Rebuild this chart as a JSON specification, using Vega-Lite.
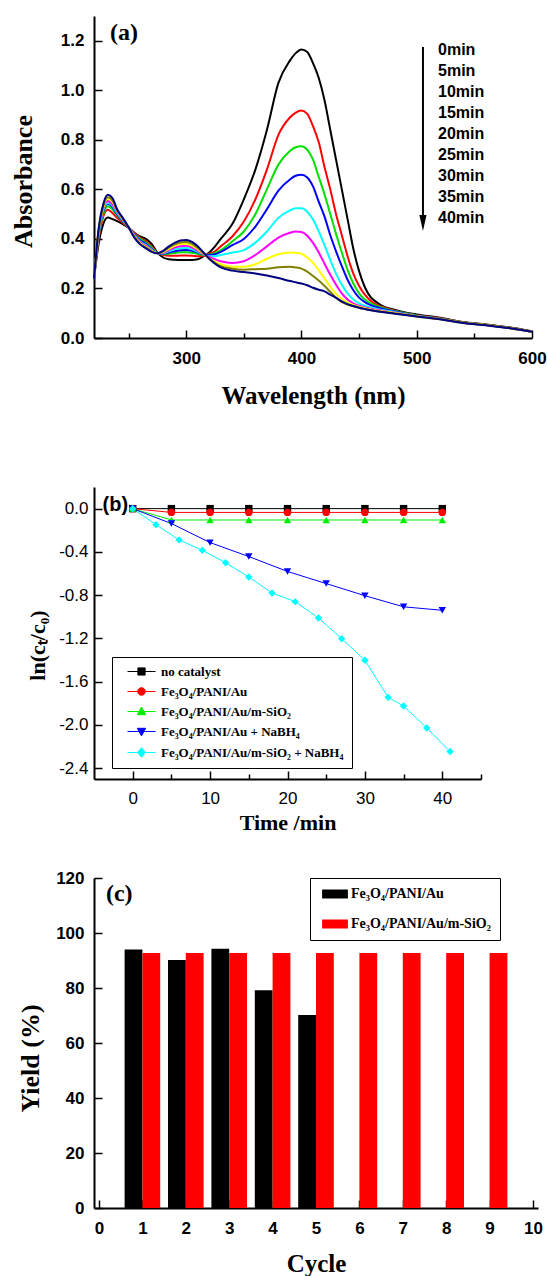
{
"$schema": "https://vega.github.io/schema/vega-lite/v6.json",
"background": "white",
"padding": {"left": 10, "top": 16, "right": 5, "bottom": 5},
"bounds": "flush",
"spacing": 149,
"resolve": {"scale": {"x": "independent", "y": "independent", "color": "independent", "shape": "independent", "stroke": "independent"}},
"config": {
  "view": {"stroke": null},
  "axis": {"grid": false, "domainColor": "black", "domainWidth": 2, "tickColor": "black", "tickWidth": 1.5, "labelColor": "black", "titleColor": "black", "labelOverlap": false, "labelFlush": false}
},
"vconcat": [
{
 "width": 438, "height": 322,
 "layer": [
  {
   "data": {"values": [
    {"wl":220,"0min":0.24,"5min":0.24,"10min":0.24,"15min":0.24,"20min":0.24,"25min":0.24,"30min":0.24,"35min":0.24,"40min":0.24},
    {"wl":224,"0min":0.38,"5min":0.40,"10min":0.41,"15min":0.42,"20min":0.42,"25min":0.425,"30min":0.43,"35min":0.435,"40min":0.44},
    {"wl":228,"0min":0.46,"5min":0.49,"10min":0.50,"15min":0.51,"20min":0.515,"25min":0.52,"30min":0.525,"35min":0.53,"40min":0.54},
    {"wl":232,"0min":0.486,"5min":0.518,"10min":0.532,"15min":0.542,"20min":0.545,"25min":0.553,"30min":0.562,"35min":0.568,"40min":0.578},
    {"wl":236,"0min":0.48,"5min":0.505,"10min":0.52,"15min":0.53,"20min":0.535,"25min":0.54,"30min":0.55,"35min":0.555,"40min":0.565},
    {"wl":240,"0min":0.472,"5min":0.485,"10min":0.495,"15min":0.50,"20min":0.505,"25min":0.51,"30min":0.515,"35min":0.518,"40min":0.52},
    {"wl":245,"0min":0.46,"5min":0.465,"10min":0.47,"15min":0.472,"20min":0.475,"25min":0.478,"30min":0.48,"35min":0.482,"40min":0.485},
    {"wl":250,"0min":0.445,"5min":0.445,"10min":0.447,"15min":0.447,"20min":0.447,"25min":0.447,"30min":0.447,"35min":0.447,"40min":0.447},
    {"wl":255,"0min":0.425,"5min":0.425,"10min":0.42,"15min":0.418,"20min":0.415,"25min":0.413,"30min":0.41,"35min":0.408,"40min":0.405},
    {"wl":260,"0min":0.41,"5min":0.405,"10min":0.40,"15min":0.395,"20min":0.39,"25min":0.387,"30min":0.383,"35min":0.38,"40min":0.378},
    {"wl":265,"0min":0.40,"5min":0.39,"10min":0.385,"15min":0.38,"20min":0.375,"25min":0.372,"30min":0.368,"35min":0.365,"40min":0.362},
    {"wl":270,"0min":0.38,"5min":0.37,"10min":0.365,"15min":0.36,"20min":0.357,"25min":0.355,"30min":0.352,"35min":0.35,"40min":0.348},
    {"wl":275,"0min":0.345,"5min":0.345,"10min":0.343,"15min":0.342,"20min":0.342,"25min":0.342,"30min":0.342,"35min":0.342,"40min":0.342},
    {"wl":280,"0min":0.325,"5min":0.335,"10min":0.338,"15min":0.34,"20min":0.342,"25min":0.344,"30min":0.347,"35min":0.35,"40min":0.352},
    {"wl":285,"0min":0.318,"5min":0.332,"10min":0.34,"15min":0.345,"20min":0.35,"25min":0.355,"30min":0.36,"35min":0.365,"40min":0.37},
    {"wl":290,"0min":0.316,"5min":0.332,"10min":0.343,"15min":0.35,"20min":0.358,"25min":0.365,"30min":0.372,"35min":0.378,"40min":0.384},
    {"wl":295,"0min":0.315,"5min":0.333,"10min":0.346,"15min":0.354,"20min":0.362,"25min":0.37,"30min":0.379,"35min":0.386,"40min":0.394},
    {"wl":300,"0min":0.315,"5min":0.333,"10min":0.346,"15min":0.355,"20min":0.363,"25min":0.372,"30min":0.38,"35min":0.388,"40min":0.396},
    {"wl":305,"0min":0.315,"5min":0.332,"10min":0.344,"15min":0.352,"20min":0.358,"25min":0.365,"30min":0.373,"35min":0.38,"40min":0.388},
    {"wl":310,"0min":0.318,"5min":0.33,"10min":0.34,"15min":0.345,"20min":0.348,"25min":0.352,"30min":0.358,"35min":0.363,"40min":0.37},
    {"wl":315,"0min":0.33,"5min":0.332,"10min":0.336,"15min":0.337,"20min":0.337,"25min":0.338,"30min":0.34,"35min":0.342,"40min":0.345},
    {"wl":320,"0min":0.345,"5min":0.34,"10min":0.337,"15min":0.335,"20min":0.33,"25min":0.327,"30min":0.322,"35min":0.32,"40min":0.32},
    {"wl":325,"0min":0.37,"5min":0.35,"10min":0.343,"15min":0.338,"20min":0.33,"25min":0.318,"30min":0.308,"35min":0.303,"40min":0.30},
    {"wl":330,"0min":0.40,"5min":0.37,"10min":0.355,"15min":0.348,"20min":0.335,"25min":0.31,"30min":0.298,"35min":0.29,"40min":0.285},
    {"wl":340,"0min":0.46,"5min":0.41,"10min":0.39,"15min":0.375,"20min":0.345,"25min":0.303,"30min":0.288,"35min":0.28,"40min":0.272},
    {"wl":350,"0min":0.56,"5min":0.47,"10min":0.43,"15min":0.40,"20min":0.355,"25min":0.31,"30min":0.288,"35min":0.276,"40min":0.266},
    {"wl":360,"0min":0.68,"5min":0.56,"10min":0.50,"15min":0.45,"20min":0.385,"25min":0.335,"30min":0.298,"35min":0.278,"40min":0.26},
    {"wl":370,"0min":0.84,"5min":0.68,"10min":0.60,"15min":0.52,"20min":0.43,"25min":0.37,"30min":0.32,"35min":0.28,"40min":0.252},
    {"wl":380,"0min":1.03,"5min":0.82,"10min":0.70,"15min":0.595,"20min":0.485,"25min":0.405,"30min":0.338,"35min":0.286,"40min":0.242},
    {"wl":390,"0min":1.12,"5min":0.89,"10min":0.755,"15min":0.64,"20min":0.515,"25min":0.425,"30min":0.345,"35min":0.288,"40min":0.23},
    {"wl":395,"0min":1.15,"5min":0.91,"10min":0.77,"15min":0.655,"20min":0.524,"25min":0.43,"30min":0.344,"35min":0.285,"40min":0.225},
    {"wl":400,"0min":1.165,"5min":0.918,"10min":0.774,"15min":0.659,"20min":0.524,"25min":0.428,"30min":0.34,"35min":0.28,"40min":0.22},
    {"wl":405,"0min":1.155,"5min":0.905,"10min":0.76,"15min":0.648,"20min":0.51,"25min":0.413,"30min":0.325,"35min":0.268,"40min":0.213},
    {"wl":410,"0min":1.11,"5min":0.855,"10min":0.72,"15min":0.612,"20min":0.478,"25min":0.384,"30min":0.303,"35min":0.25,"40min":0.203},
    {"wl":415,"0min":1.05,"5min":0.79,"10min":0.65,"15min":0.55,"20min":0.43,"25min":0.345,"30min":0.273,"35min":0.232,"40min":0.195},
    {"wl":420,"0min":0.96,"5min":0.69,"10min":0.58,"15min":0.49,"20min":0.375,"25min":0.30,"30min":0.24,"35min":0.21,"40min":0.188},
    {"wl":425,"0min":0.84,"5min":0.60,"10min":0.50,"15min":0.415,"20min":0.315,"25min":0.255,"30min":0.207,"35min":0.186,"40min":0.175},
    {"wl":430,"0min":0.72,"5min":0.50,"10min":0.42,"15min":0.35,"20min":0.26,"25min":0.215,"30min":0.178,"35min":0.163,"40min":0.162},
    {"wl":435,"0min":0.60,"5min":0.415,"10min":0.345,"15min":0.29,"20min":0.215,"25min":0.18,"30min":0.157,"35min":0.145,"40min":0.148},
    {"wl":440,"0min":0.48,"5min":0.33,"10min":0.275,"15min":0.235,"20min":0.18,"25min":0.155,"30min":0.143,"35min":0.135,"40min":0.137},
    {"wl":445,"0min":0.36,"5min":0.26,"10min":0.22,"15min":0.193,"20min":0.155,"25min":0.14,"30min":0.133,"35min":0.128,"40min":0.129},
    {"wl":450,"0min":0.27,"5min":0.21,"10min":0.18,"15min":0.163,"20min":0.14,"25min":0.13,"30min":0.126,"35min":0.122,"40min":0.122},
    {"wl":455,"0min":0.205,"5min":0.175,"10min":0.155,"15min":0.145,"20min":0.13,"25min":0.123,"30min":0.12,"35min":0.117,"40min":0.117},
    {"wl":460,"0min":0.165,"5min":0.15,"10min":0.14,"15min":0.133,"20min":0.123,"25min":0.118,"30min":0.115,"35min":0.113,"40min":0.112},
    {"wl":465,"0min":0.145,"5min":0.135,"10min":0.13,"15min":0.125,"20min":0.118,"25min":0.114,"30min":0.111,"35min":0.109,"40min":0.108},
    {"wl":470,"0min":0.13,"5min":0.125,"10min":0.122,"15min":0.118,"20min":0.113,"25min":0.11,"30min":0.108,"35min":0.106,"40min":0.105},
    {"wl":480,"0min":0.115,"5min":0.112,"10min":0.11,"15min":0.108,"20min":0.105,"25min":0.103,"30min":0.102,"35min":0.1,"40min":0.099},
    {"wl":490,"0min":0.103,"5min":0.1,"10min":0.1,"15min":0.098,"20min":0.097,"25min":0.096,"30min":0.095,"35min":0.094,"40min":0.093},
    {"wl":500,"0min":0.095,"5min":0.092,"10min":0.091,"15min":0.09,"20min":0.089,"25min":0.088,"30min":0.088,"35min":0.087,"40min":0.087},
    {"wl":520,"0min":0.082,"5min":0.08,"10min":0.079,"15min":0.078,"20min":0.077,"25min":0.077,"30min":0.077,"35min":0.076,"40min":0.076},
    {"wl":540,"0min":0.065,"5min":0.064,"10min":0.063,"15min":0.062,"20min":0.062,"25min":0.062,"30min":0.062,"35min":0.062,"40min":0.061},
    {"wl":560,"0min":0.055,"5min":0.054,"10min":0.053,"15min":0.052,"20min":0.052,"25min":0.052,"30min":0.052,"35min":0.052,"40min":0.051},
    {"wl":580,"0min":0.043,"5min":0.042,"10min":0.041,"15min":0.04,"20min":0.04,"25min":0.04,"30min":0.04,"35min":0.04,"40min":0.04},
    {"wl":600,"0min":0.027,"5min":0.026,"10min":0.025,"15min":0.025,"20min":0.025,"25min":0.025,"30min":0.025,"35min":0.025,"40min":0.025}
   ]},
   "transform": [{"fold": ["0min","5min","10min","15min","20min","25min","30min","35min","40min"], "as": ["time","absorbance"]}],
   "mark": {"type": "line", "strokeWidth": 2, "interpolate": "monotone"},
   "encoding": {
    "x": {"field": "wl", "type": "quantitative", "scale": {"domain": [220,600], "nice": false, "zero": false},
      "axis": {"values": [250,300,350,400,450,500,550,600], "labelExpr": "datum.value % 100 == 0 ? datum.label : ''",
        "tickSize": {"condition": {"test": "datum.value % 100 == 0", "value": -8}, "value": -5},
        "labelPadding": 20, "labelFont": "Liberation Sans", "labelFontWeight": "bold", "labelFontSize": 17,
        "title": "Wavelength (nm)", "titleFont": "Liberation Serif", "titleFontWeight": "bold", "titleFontSize": 25, "titleY": 57, "titleBaseline": "middle"}},
    "y": {"field": "absorbance", "type": "quantitative", "scale": {"domain": [0,1.3], "nice": false},
      "axis": {"values": [0,0.1,0.2,0.3,0.4,0.5,0.6,0.7,0.8,0.9,1.0,1.1,1.2,1.3], "format": ".1f",
        "labelExpr": "round(datum.value*10) % 2 == 0 ? datum.label : ''",
        "tickSize": {"condition": {"test": "round(datum.value*10) % 2 == 0", "value": -8}, "value": -5},
        "labelPadding": 18, "labelFont": "Liberation Sans", "labelFontWeight": "bold", "labelFontSize": 17,
        "title": "Absorbance", "titleFont": "Liberation Serif", "titleFontWeight": "bold", "titleFontSize": 26, "titleX": -71, "titleY": 165, "titleBaseline": "middle"}},
    "color": {"field": "time", "type": "nominal",
      "scale": {"domain": ["0min","5min","10min","15min","20min","25min","30min","35min","40min"], "range": ["#000000","#ff0000","#00e000","#0000ff","#00ffff","#ff00ff","#ffff00","#808000","#000080"]},
      "legend": {"orient": "none", "legendX": 328, "legendY": 26, "title": null, "symbolSize": 0, "symbolStrokeWidth": 0, "symbolOpacity": 0, "labelOffset": 0, "padding": 0, "rowPadding": 5, "labelFont": "Liberation Sans", "labelFontWeight": "bold", "labelFontSize": 16, "labelColor": "black"}}
   }
  },
  {
   "data": {"values": [{}]},
   "mark": {"type": "rule", "strokeWidth": 2, "color": "black"},
   "encoding": {"x": {"datum": 505.4}, "y": {"datum": 1.175}, "y2": {"datum": 0.49}}
  },
  {
   "data": {"values": [{}]},
   "mark": {"type": "point", "shape": "M-0.45,-1L0.45,-1L0,1Z", "filled": true, "color": "black", "size": 256, "opacity": 1},
   "encoding": {"x": {"datum": 505.4}, "y": {"datum": 0.464}}
  },
  {
   "data": {"values": [{}]},
   "mark": {"type": "text", "text": "(a)", "font": "Liberation Serif", "fontWeight": "bold", "fontSize": 24, "align": "left", "baseline": "middle", "color": "black"},
   "encoding": {"x": {"datum": 233.9}, "y": {"datum": 1.23}}
  }
 ]
},
{
 "bounds": "flush",
 "spacing": 99,
 "resolve": {"scale": {"x": "independent", "y": "independent", "color": "independent", "shape": "independent", "stroke": "independent"}},
 "vconcat": [
  {
   "width": 387, "height": 292,
   "layer": [
    {
     "data": {"name": "kin"},
     "mark": {"type": "line", "strokeWidth": 1},
     "encoding": {
      "x": {"field": "time", "type": "quantitative", "scale": {"domain": [-5,45], "nice": false, "zero": false},
        "axis": {"values": [0,5,10,15,20,25,30,35,40,45], "labelExpr": "datum.value % 10 == 0 && datum.value <= 40 ? datum.label : ''",
          "tickSize": {"condition": {"test": "datum.value % 10 == 0", "value": -8}, "value": -5},
          "labelPadding": 19, "labelFont": "Liberation Sans", "labelFontWeight": "normal", "labelFontSize": 17,
          "title": "Time /min", "titleFont": "Liberation Serif", "titleFontWeight": "bold", "titleFontSize": 22, "titleY": 43, "titleBaseline": "middle"}},
      "y": {"field": "value", "type": "quantitative", "scale": {"domain": [-2.5,0.2], "nice": false, "zero": false},
        "axis": {"values": [0.2,0,-0.2,-0.4,-0.6,-0.8,-1.0,-1.2,-1.4,-1.6,-1.8,-2.0,-2.2,-2.4],
          "labelExpr": "round(datum.value*10) % 4 == 0 && datum.value < 0.1 ? replace(format(datum.value, '.1f'), '\u2212', '-') : ''",
          "tickSize": {"condition": {"test": "round(datum.value*10) % 4 == 0", "value": -8}, "value": -5},
          "labelPadding": 14, "labelFont": "Liberation Sans", "labelFontWeight": "normal", "labelFontSize": 17,
          "title": "ln(cₜ/c₀)", "titleFont": "Liberation Serif", "titleFontWeight": "bold", "titleFontSize": 22, "titleX": -57, "titleY": 158, "titleBaseline": "middle"}},
      "color": {"field": "series", "type": "nominal", "legend": null,
       "scale": {"domain": ["no catalyst","Fe₃O₄/PANI/Au","Fe₃O₄/PANI/Au/m-SiO₂","Fe₃O₄/PANI/Au + NaBH₄","Fe₃O₄/PANI/Au/m-SiO₂ + NaBH₄"], "range": ["#000000","#ff0000","#00ee00","#0000ff","#00ffff"]}}
     }
    },
    {
     "data": {"name": "kin"},
     "mark": {"type": "point", "filled": true, "size": 55, "opacity": 1},
     "encoding": {
      "x": {"field": "time", "type": "quantitative", "scale": {"domain": [-5,45], "nice": false, "zero": false},
        "axis": {"values": [0,5,10,15,20,25,30,35,40,45], "labelExpr": "datum.value % 10 == 0 && datum.value <= 40 ? datum.label : ''",
          "tickSize": {"condition": {"test": "datum.value % 10 == 0", "value": -8}, "value": -5},
          "labelPadding": 19, "labelFont": "Liberation Sans", "labelFontWeight": "normal", "labelFontSize": 17,
          "title": "Time /min", "titleFont": "Liberation Serif", "titleFontWeight": "bold", "titleFontSize": 22, "titleY": 43, "titleBaseline": "middle"}},
      "y": {"field": "value", "type": "quantitative", "scale": {"domain": [-2.5,0.2], "nice": false, "zero": false},
        "axis": {"values": [0.2,0,-0.2,-0.4,-0.6,-0.8,-1.0,-1.2,-1.4,-1.6,-1.8,-2.0,-2.2,-2.4],
          "labelExpr": "round(datum.value*10) % 4 == 0 && datum.value < 0.1 ? replace(format(datum.value, '.1f'), '\u2212', '-') : ''",
          "tickSize": {"condition": {"test": "round(datum.value*10) % 4 == 0", "value": -8}, "value": -5},
          "labelPadding": 14, "labelFont": "Liberation Sans", "labelFontWeight": "normal", "labelFontSize": 17,
          "title": "ln(cₜ/c₀)", "titleFont": "Liberation Serif", "titleFontWeight": "bold", "titleFontSize": 22, "titleX": -57, "titleY": 158, "titleBaseline": "middle"}},
      "color": {"field": "series", "type": "nominal", "legend": null,
       "scale": {"domain": ["no catalyst","Fe₃O₄/PANI/Au","Fe₃O₄/PANI/Au/m-SiO₂","Fe₃O₄/PANI/Au + NaBH₄","Fe₃O₄/PANI/Au/m-SiO₂ + NaBH₄"], "range": ["#000000","#ff0000","#00ee00","#0000ff","#00ffff"]}},
      "shape": {"field": "series", "type": "nominal", "legend": null,
       "scale": {"domain": ["no catalyst","Fe₃O₄/PANI/Au","Fe₃O₄/PANI/Au/m-SiO₂","Fe₃O₄/PANI/Au + NaBH₄","Fe₃O₄/PANI/Au/m-SiO₂ + NaBH₄"], "range": ["square","circle","triangle-up","triangle-down","diamond"]}}
     }
    },
    {
     "data": {"name": "kin"},
     "mark": {"type": "point", "filled": true, "opacity": 0},
     "encoding": {
      "x": {"field": "time", "type": "quantitative", "scale": {"domain": [-5,45], "nice": false, "zero": false},
        "axis": {"values": [0,5,10,15,20,25,30,35,40,45], "labelExpr": "datum.value % 10 == 0 && datum.value <= 40 ? datum.label : ''",
          "tickSize": {"condition": {"test": "datum.value % 10 == 0", "value": -8}, "value": -5},
          "labelPadding": 19, "labelFont": "Liberation Sans", "labelFontWeight": "normal", "labelFontSize": 17,
          "title": "Time /min", "titleFont": "Liberation Serif", "titleFontWeight": "bold", "titleFontSize": 22, "titleY": 43, "titleBaseline": "middle"}},
      "y": {"field": "value", "type": "quantitative", "scale": {"domain": [-2.5,0.2], "nice": false, "zero": false},
        "axis": {"values": [0.2,0,-0.2,-0.4,-0.6,-0.8,-1.0,-1.2,-1.4,-1.6,-1.8,-2.0,-2.2,-2.4],
          "labelExpr": "round(datum.value*10) % 4 == 0 && datum.value < 0.1 ? replace(format(datum.value, '.1f'), '\u2212', '-') : ''",
          "tickSize": {"condition": {"test": "round(datum.value*10) % 4 == 0", "value": -8}, "value": -5},
          "labelPadding": 14, "labelFont": "Liberation Sans", "labelFontWeight": "normal", "labelFontSize": 17,
          "title": "ln(cₜ/c₀)", "titleFont": "Liberation Serif", "titleFontWeight": "bold", "titleFontSize": 22, "titleX": -57, "titleY": 158, "titleBaseline": "middle"}},
      "color": {"field": "series", "type": "nominal",
       "scale": {"domain": ["no catalyst","Fe₃O₄/PANI/Au","Fe₃O₄/PANI/Au/m-SiO₂","Fe₃O₄/PANI/Au + NaBH₄","Fe₃O₄/PANI/Au/m-SiO₂ + NaBH₄"], "range": ["#000000","#ff0000","#00ee00","#0000ff","#00ffff"]},
       "legend": {"orient": "none", "legendX": 18, "legendY": 170, "title": null, "padding": 8, "strokeColor": "black", "fillColor": "white", "symbolSize": 64, "symbolOffset": 15, "symbolStrokeWidth": 1, "symbolOpacity": 1, "labelOffset": 13, "labelFont": "Liberation Serif", "labelFontWeight": "bold", "labelFontSize": 13, "labelColor": "black", "rowPadding": 6, "labelLimit": 400}},
      "stroke": {"field": "series", "type": "nominal",
       "scale": {"domain": ["no catalyst","Fe₃O₄/PANI/Au","Fe₃O₄/PANI/Au/m-SiO₂","Fe₃O₄/PANI/Au + NaBH₄","Fe₃O₄/PANI/Au/m-SiO₂ + NaBH₄"], "range": ["#000000","#ff0000","#00ee00","#0000ff","#00ffff"]},
       "legend": {"orient": "none", "legendX": 18, "legendY": 170, "title": null, "padding": 8, "strokeColor": "black", "fillColor": "white", "symbolSize": 64, "symbolOffset": 15, "symbolStrokeWidth": 1, "symbolOpacity": 1, "labelOffset": 13, "labelFont": "Liberation Serif", "labelFontWeight": "bold", "labelFontSize": 13, "labelColor": "black", "rowPadding": 6, "labelLimit": 400}},
      "shape": {"field": "series", "type": "nominal",
       "scale": {"domain": ["no catalyst","Fe₃O₄/PANI/Au","Fe₃O₄/PANI/Au/m-SiO₂","Fe₃O₄/PANI/Au + NaBH₄","Fe₃O₄/PANI/Au/m-SiO₂ + NaBH₄"],
         "range": ["M-3.5,0H3.5M-0.9,-0.9H0.9V0.9H-0.9Z","M-3.5,0H3.5M-0.95,0A0.95,0.95,0,1,0,0.95,0A0.95,0.95,0,1,0,-0.95,0Z","M-3.5,0H3.5M0,-1.1L1.05,0.8L-1.05,0.8Z","M-3.5,0H3.5M0,1.1L1.05,-0.8L-1.05,-0.8Z","M-3.5,0H3.5M0,-1.2L1,0L0,1.2L-1,0Z"]},
       "legend": {"orient": "none", "legendX": 18, "legendY": 170, "title": null, "padding": 8, "strokeColor": "black", "fillColor": "white", "symbolSize": 64, "symbolOffset": 15, "symbolStrokeWidth": 1, "symbolOpacity": 1, "labelOffset": 13, "labelFont": "Liberation Serif", "labelFontWeight": "bold", "labelFontSize": 13, "labelColor": "black", "rowPadding": 6, "labelLimit": 400}}
     }
    },
    {
     "data": {"values": [{}]},
     "mark": {"type": "text", "text": "(b)", "font": "Liberation Sans", "fontWeight": "bold", "fontSize": 20, "align": "left", "baseline": "middle", "color": "black"},
     "encoding": {"x": {"datum": -3.9}, "y": {"datum": 0.03}}
    }
   ],
   "resolve": {"scale": {"shape": "independent", "color": "independent", "stroke": "independent"}}
  },
  {
   "width": 444, "height": 330,
   "layer": [
    {
     "data": {"name": "cyc"},
     "transform": [{"filter": "datum.series == 'Fe₃O₄/PANI/Au'"}],
     "mark": {"type": "bar", "orient": "vertical", "width": 17.8, "xOffset": -8.9},
     "encoding": {
      "x": {"field": "cycle", "type": "quantitative", "scale": {"domain": [0,10], "nice": false, "zero": false},
        "axis": {"values": [0,0.5,1,1.5,2,2.5,3,3.5,4,4.5,5,5.5,6,6.5,7,7.5,8,8.5,9,9.5,10], "labelExpr": "datum.value % 1 == 0 ? format(datum.value, 'd') : ''",
          "tickSize": {"condition": {"test": "datum.value % 1 == 0", "value": -8}, "value": -5},
          "labelPadding": 20, "labelFont": "Liberation Sans", "labelFontWeight": "bold", "labelFontSize": 17,
          "title": "Cycle", "titleFont": "Liberation Serif", "titleFontWeight": "bold", "titleFontSize": 25, "titleY": 55, "titleBaseline": "middle"}},
      "y": {"field": "yield", "type": "quantitative", "stack": null, "scale": {"domain": [0,120], "nice": false},
        "axis": {"values": [0,10,20,30,40,50,60,70,80,90,100,110,120], "labelExpr": "datum.value % 20 == 0 ? datum.label : ''",
          "tickSize": {"condition": {"test": "datum.value % 20 == 0", "value": -8}, "value": -5},
          "labelPadding": 18, "labelFont": "Liberation Sans", "labelFontWeight": "bold", "labelFontSize": 17,
          "title": "Yield (%)", "titleFont": "Liberation Serif", "titleFontWeight": "bold", "titleFontSize": 26, "titleX": -64, "titleY": 180, "titleBaseline": "middle"}},
      "color": {"field": "series", "type": "nominal",
        "scale": {"domain": ["Fe₃O₄/PANI/Au","Fe₃O₄/PANI/Au/m-SiO₂"], "range": ["#000000","#ff0000"]},
        "legend": {"orient": "none", "legendX": 216, "legendY": 0, "title": null, "padding": 9, "strokeColor": "black", "fillColor": "white", "symbolType": "M-4.3,-1.5H4.3V1.5H-4.3Z", "symbolSize": 36, "symbolOffset": 9, "symbolStrokeWidth": 0, "symbolOpacity": 1, "labelOffset": 9, "labelFont": "Liberation Serif", "labelFontWeight": "bold", "labelFontSize": 14, "labelColor": "black", "rowPadding": 16, "labelLimit": 400}}
     }
    },
    {
     "data": {"name": "cyc"},
     "transform": [{"filter": "datum.series != 'Fe₃O₄/PANI/Au'"}],
     "mark": {"type": "bar", "orient": "vertical", "width": 17.8, "xOffset": 8.9},
     "encoding": {
      "x": {"field": "cycle", "type": "quantitative", "scale": {"domain": [0,10], "nice": false, "zero": false},
        "axis": {"values": [0,0.5,1,1.5,2,2.5,3,3.5,4,4.5,5,5.5,6,6.5,7,7.5,8,8.5,9,9.5,10], "labelExpr": "datum.value % 1 == 0 ? format(datum.value, 'd') : ''",
          "tickSize": {"condition": {"test": "datum.value % 1 == 0", "value": -8}, "value": -5},
          "labelPadding": 20, "labelFont": "Liberation Sans", "labelFontWeight": "bold", "labelFontSize": 17,
          "title": "Cycle", "titleFont": "Liberation Serif", "titleFontWeight": "bold", "titleFontSize": 25, "titleY": 55, "titleBaseline": "middle"}},
      "y": {"field": "yield", "type": "quantitative", "stack": null, "scale": {"domain": [0,120], "nice": false},
        "axis": {"values": [0,10,20,30,40,50,60,70,80,90,100,110,120], "labelExpr": "datum.value % 20 == 0 ? datum.label : ''",
          "tickSize": {"condition": {"test": "datum.value % 20 == 0", "value": -8}, "value": -5},
          "labelPadding": 18, "labelFont": "Liberation Sans", "labelFontWeight": "bold", "labelFontSize": 17,
          "title": "Yield (%)", "titleFont": "Liberation Serif", "titleFontWeight": "bold", "titleFontSize": 26, "titleX": -64, "titleY": 180, "titleBaseline": "middle"}},
      "color": {"field": "series", "type": "nominal",
        "scale": {"domain": ["Fe₃O₄/PANI/Au","Fe₃O₄/PANI/Au/m-SiO₂"], "range": ["#000000","#ff0000"]},
        "legend": {"orient": "none", "legendX": 216, "legendY": 0, "title": null, "padding": 9, "strokeColor": "black", "fillColor": "white", "symbolType": "M-4.3,-1.5H4.3V1.5H-4.3Z", "symbolSize": 36, "symbolOffset": 9, "symbolStrokeWidth": 0, "symbolOpacity": 1, "labelOffset": 9, "labelFont": "Liberation Serif", "labelFontWeight": "bold", "labelFontSize": 14, "labelColor": "black", "rowPadding": 16, "labelLimit": 400}}
     }
    },
    {
     "data": {"values": [{}]},
     "mark": {"type": "text", "text": "(c)", "font": "Liberation Serif", "fontWeight": "bold", "fontSize": 24, "align": "left", "baseline": "middle", "color": "black"},
     "encoding": {"x": {"datum": 0.16}, "y": {"datum": 114.3}}
    }
   ]
  }
 ]
}
],
"datasets": {
 "kin": [
    {"series":"no catalyst","time":0,"value":0},{"series":"no catalyst","time":5,"value":0},{"series":"no catalyst","time":10,"value":0},{"series":"no catalyst","time":15,"value":0},{"series":"no catalyst","time":20,"value":0},{"series":"no catalyst","time":25,"value":0},{"series":"no catalyst","time":30,"value":0},{"series":"no catalyst","time":35,"value":0},{"series":"no catalyst","time":40,"value":0},
    {"series":"Fe₃O₄/PANI/Au","time":0,"value":0},{"series":"Fe₃O₄/PANI/Au","time":5,"value":-0.035},{"series":"Fe₃O₄/PANI/Au","time":10,"value":-0.035},{"series":"Fe₃O₄/PANI/Au","time":15,"value":-0.035},{"series":"Fe₃O₄/PANI/Au","time":20,"value":-0.035},{"series":"Fe₃O₄/PANI/Au","time":25,"value":-0.035},{"series":"Fe₃O₄/PANI/Au","time":30,"value":-0.035},{"series":"Fe₃O₄/PANI/Au","time":35,"value":-0.035},{"series":"Fe₃O₄/PANI/Au","time":40,"value":-0.035},
    {"series":"Fe₃O₄/PANI/Au/m-SiO₂","time":0,"value":0},{"series":"Fe₃O₄/PANI/Au/m-SiO₂","time":5,"value":-0.105},{"series":"Fe₃O₄/PANI/Au/m-SiO₂","time":10,"value":-0.105},{"series":"Fe₃O₄/PANI/Au/m-SiO₂","time":15,"value":-0.105},{"series":"Fe₃O₄/PANI/Au/m-SiO₂","time":20,"value":-0.105},{"series":"Fe₃O₄/PANI/Au/m-SiO₂","time":25,"value":-0.105},{"series":"Fe₃O₄/PANI/Au/m-SiO₂","time":30,"value":-0.105},{"series":"Fe₃O₄/PANI/Au/m-SiO₂","time":35,"value":-0.105},{"series":"Fe₃O₄/PANI/Au/m-SiO₂","time":40,"value":-0.105},
    {"series":"Fe₃O₄/PANI/Au + NaBH₄","time":0,"value":0},{"series":"Fe₃O₄/PANI/Au + NaBH₄","time":5,"value":-0.138},{"series":"Fe₃O₄/PANI/Au + NaBH₄","time":10,"value":-0.314},{"series":"Fe₃O₄/PANI/Au + NaBH₄","time":15,"value":-0.443},{"series":"Fe₃O₄/PANI/Au + NaBH₄","time":20,"value":-0.581},{"series":"Fe₃O₄/PANI/Au + NaBH₄","time":25,"value":-0.693},{"series":"Fe₃O₄/PANI/Au + NaBH₄","time":30,"value":-0.805},{"series":"Fe₃O₄/PANI/Au + NaBH₄","time":35,"value":-0.908},{"series":"Fe₃O₄/PANI/Au + NaBH₄","time":40,"value":-0.94},
    {"series":"Fe₃O₄/PANI/Au/m-SiO₂ + NaBH₄","time":0,"value":0},{"series":"Fe₃O₄/PANI/Au/m-SiO₂ + NaBH₄","time":3,"value":-0.148},{"series":"Fe₃O₄/PANI/Au/m-SiO₂ + NaBH₄","time":6,"value":-0.289},{"series":"Fe₃O₄/PANI/Au/m-SiO₂ + NaBH₄","time":9,"value":-0.385},{"series":"Fe₃O₄/PANI/Au/m-SiO₂ + NaBH₄","time":12,"value":-0.5},{"series":"Fe₃O₄/PANI/Au/m-SiO₂ + NaBH₄","time":15,"value":-0.632},{"series":"Fe₃O₄/PANI/Au/m-SiO₂ + NaBH₄","time":18,"value":-0.78},{"series":"Fe₃O₄/PANI/Au/m-SiO₂ + NaBH₄","time":21,"value":-0.86},{"series":"Fe₃O₄/PANI/Au/m-SiO₂ + NaBH₄","time":24,"value":-1.011},{"series":"Fe₃O₄/PANI/Au/m-SiO₂ + NaBH₄","time":27,"value":-1.203},{"series":"Fe₃O₄/PANI/Au/m-SiO₂ + NaBH₄","time":30,"value":-1.402},{"series":"Fe₃O₄/PANI/Au/m-SiO₂ + NaBH₄","time":33,"value":-1.745},{"series":"Fe₃O₄/PANI/Au/m-SiO₂ + NaBH₄","time":35,"value":-1.825},{"series":"Fe₃O₄/PANI/Au/m-SiO₂ + NaBH₄","time":38,"value":-2.028},{"series":"Fe₃O₄/PANI/Au/m-SiO₂ + NaBH₄","time":41,"value":-2.246}
 ],
 "cyc": [
    {"cycle":1,"series":"Fe₃O₄/PANI/Au","yield":94.0},{"cycle":2,"series":"Fe₃O₄/PANI/Au","yield":90.2},{"cycle":3,"series":"Fe₃O₄/PANI/Au","yield":94.3},{"cycle":4,"series":"Fe₃O₄/PANI/Au","yield":79.2},{"cycle":5,"series":"Fe₃O₄/PANI/Au","yield":70.2},
    {"cycle":1,"series":"Fe₃O₄/PANI/Au/m-SiO₂","yield":92.7},{"cycle":2,"series":"Fe₃O₄/PANI/Au/m-SiO₂","yield":92.7},{"cycle":3,"series":"Fe₃O₄/PANI/Au/m-SiO₂","yield":92.7},{"cycle":4,"series":"Fe₃O₄/PANI/Au/m-SiO₂","yield":92.7},{"cycle":5,"series":"Fe₃O₄/PANI/Au/m-SiO₂","yield":92.7},{"cycle":6,"series":"Fe₃O₄/PANI/Au/m-SiO₂","yield":92.7},{"cycle":7,"series":"Fe₃O₄/PANI/Au/m-SiO₂","yield":92.7},{"cycle":8,"series":"Fe₃O₄/PANI/Au/m-SiO₂","yield":92.7},{"cycle":9,"series":"Fe₃O₄/PANI/Au/m-SiO₂","yield":92.7}
 ]
}
}
